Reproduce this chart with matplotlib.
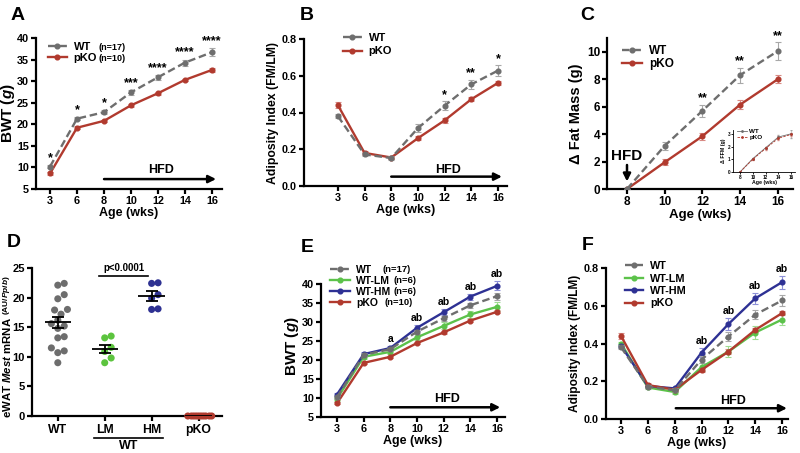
import matplotlib
matplotlib.use('Agg')
import matplotlib.pyplot as plt
import numpy as np

plt.rcParams.update({
    'font.family': 'Liberation Sans',
    'font.weight': 'bold',
    'axes.labelweight': 'bold',
    'mathtext.fontset': 'custom',
    'mathtext.rm': 'Liberation Sans:bold',
    'mathtext.it': 'Liberation Sans:italic:bold',
    'mathtext.bf': 'Liberation Sans:bold',
})

# ---- data ----
ages = [3, 6, 8, 10, 12, 14, 16]

bwt_wt = [10.2, 21.3, 22.8, 27.4, 30.9, 34.3, 36.7]
bwt_wt_err = [0.4, 0.4, 0.4, 0.5, 0.6, 0.7, 0.9]
bwt_ko = [8.6, 19.2, 20.8, 24.4, 27.2, 30.3, 32.6]
bwt_ko_err = [0.3, 0.3, 0.3, 0.3, 0.3, 0.3, 0.4]
bwt_lm = [9.8, 20.8, 22.1, 25.9, 28.9, 31.9, 33.9]
bwt_lm_err = [0.5, 0.5, 0.6, 0.8, 0.9, 1.0, 1.2]
bwt_hm = [10.9, 21.5, 23.1, 28.4, 32.5, 36.6, 39.4]
bwt_hm_err = [0.5, 0.5, 0.6, 0.8, 0.8, 0.8, 1.2]

ai_wt = [0.38, 0.172, 0.152, 0.315, 0.437, 0.553, 0.628]
ai_wt_err = [0.01, 0.01, 0.01, 0.02, 0.025, 0.025, 0.03]
ai_ko = [0.44, 0.18, 0.155, 0.26, 0.357, 0.472, 0.561]
ai_ko_err = [0.015, 0.01, 0.01, 0.01, 0.012, 0.012, 0.012]
ai_lm = [0.40, 0.167, 0.143, 0.275, 0.357, 0.458, 0.527]
ai_lm_err = [0.01, 0.01, 0.01, 0.02, 0.03, 0.035, 0.03]
ai_hm = [0.388, 0.175, 0.162, 0.352, 0.503, 0.639, 0.725]
ai_hm_err = [0.01, 0.01, 0.01, 0.025, 0.03, 0.03, 0.035]

hfd_ages = [8, 10, 12, 14, 16]
dfm_wt = [0.0, 3.15, 5.7, 8.3, 10.05]
dfm_wt_err = [0.0, 0.3, 0.45, 0.55, 0.65]
dfm_ko = [0.0, 1.95, 3.85, 6.15, 8.0]
dfm_ko_err = [0.0, 0.2, 0.25, 0.3, 0.3]
dffm_wt = [0.0, 1.05, 1.9, 2.75, 3.0]
dffm_wt_err = [0.0, 0.05, 0.1, 0.15, 0.3]
dffm_ko = [0.0, 1.0, 1.85, 2.65, 2.95]
dffm_ko_err = [0.0, 0.05, 0.1, 0.15, 0.15]

mest_groups = ['WT', 'LM', 'HM', 'pKO']
mest_wt = [22.4, 22.1, 20.5, 19.8, 18.0, 17.9, 17.2, 16.2, 15.6, 15.2,
           14.8, 13.4, 13.2, 11.5, 11.0, 10.7, 9.0]
mest_lm = [13.2, 13.5, 11.6, 10.9, 9.8, 9.0]
mest_hm = [22.5, 22.4, 20.5, 19.9, 18.1, 18.0]
mest_ko = [0.0] * 10

stars_a = ['*', '*', '*', '***', '****', '****', '****']
stars_b = ['', '', '', '', '*', '**', '*']
stars_c = ['', '', '**', '**', '**']
marks_e = ['', '', 'a', 'ab', 'ab', 'ab', 'ab']
marks_f = ['', '', '', 'ab', 'ab', 'ab', 'ab']

GRAY, RED, GREEN, BLUE = '#6e6e6e', '#b13a2e', '#5cc24a', '#2e3194'
EGRAY, ERED, EGREEN, EBLUE = '#a8a8a8', '#d88a84', '#9fdc92', '#8d90d6'

W, H = 800, 453
fig = plt.figure(figsize=(8, 4.53), dpi=100)


def box(l, t, r, b):
    return fig.add_axes([l / W, 1 - b / H, (r - l) / W, (b - t) / H])


def style(ax, size=7.8, lw=1.6):
    ax.spines['top'].set_visible(False)
    ax.spines['right'].set_visible(False)
    ax.spines['left'].set_linewidth(lw)
    ax.spines['bottom'].set_linewidth(lw)
    ax.tick_params(width=lw, length=3.5, labelsize=size, pad=1.5)


def series(ax, x, y, err, color, ecolor, dashed=False, lw=1.7, ms=3.4, z=2):
    ax.errorbar(x, y, yerr=err, fmt='none', ecolor=ecolor, elinewidth=0.8,
                capsize=2, capthick=0.8, zorder=z)
    line, = ax.plot(x, y, color=color, lw=lw, marker='o', ms=ms, zorder=z + 0.5)
    if dashed:
        line.set_dashes((3.2, 1.6))
    return line


def marks(ax, x, top, labels, pts, size=9):
    for xi, yi, s in zip(x, top, labels):
        if s:
            ax.annotate(s, (xi, yi), xytext=(0, pts), textcoords='offset points',
                        ha='center', va='center', fontsize=size)


def hfd(ax, x0, x1, y, ty, size=9):
    ax.annotate('', xy=(x1, y), xytext=(x0, y),
                arrowprops=dict(arrowstyle='-|>', lw=1.8, color='black',
                                mutation_scale=11, shrinkA=0, shrinkB=0))
    ax.text((x0 + x1) / 2 + 0.05, ty, 'HFD', ha='center', va='center', fontsize=size)


def legend(ax, handles, labels, left, row1, size, spacing, hlen=1.7):
    fs = size * 100 / 72
    return ax.legend(handles, labels, loc='upper left', frameon=False, fontsize=size,
                     bbox_to_anchor=(left / W, 1 - (row1 - 0.62 * fs) / H),
                     bbox_transform=fig.transFigure, borderpad=0, borderaxespad=0,
                     handlelength=hlen, handletextpad=0.6, labelspacing=spacing)


def counts(leg, labels, dx, size):
    fig.canvas.draw()
    for t, n, d in zip(leg.get_texts(), labels, dx):
        bb = t.get_window_extent()
        fig.text((bb.x0 + d) / W, (bb.y0 + bb.y1) / 2 / H, n, fontsize=size, va='center')


def swarm(vals, xscale, yscale, diam, half):
    # simple beeswarm: shift points sideways until they stop overlapping
    vals = np.asarray(vals, float)
    offs = np.zeros(len(vals))
    placed = []
    step = diam * 0.5
    cands = [0.0] + [s * k * step for k in range(1, 40) for s in (1, -1)]
    for i in np.argsort(vals):
        y = vals[i] * yscale
        for dx in cands:
            if all((dx - px) ** 2 + (y - py) ** 2 >= diam ** 2 for px, py in placed):
                break
        placed.append((dx, y))
        offs[i] = dx / xscale
    m = np.abs(offs).max()
    if m > half:
        offs *= half / m
    return offs


idx = np.arange(len(ages))

# ---- A ----
axA = box(36, 38, 222, 189)
a1 = series(axA, idx, bwt_wt, bwt_wt_err, GRAY, EGRAY, dashed=True, z=3)
a2 = series(axA, idx, bwt_ko, bwt_ko_err, RED, ERED, z=2)
axA.set_xlim(-0.52, 6.37)
axA.set_ylim(5, 40)
axA.set_xticks(idx, ages)
axA.set_yticks(range(5, 41, 5))
axA.set_xlabel('Age (wks)', fontsize=9, labelpad=1)
axA.set_ylabel(r'BWT $\mathit{(g)}$', fontsize=11, labelpad=0)
style(axA)
marks(axA, idx, np.add(bwt_wt, bwt_wt_err), stars_a, 5)
hfd(axA, 2, 6.15, 7.3, 9.3)
legA = legend(axA, [a1, a2], ['WT', 'pKO'], 48, 49, 8, 0.1)

# ---- B ----
axB = box(304, 39, 507, 186)
b1 = series(axB, idx, ai_wt, ai_wt_err, GRAY, EGRAY, dashed=True, z=3)
b2 = series(axB, idx, ai_ko, ai_ko_err, RED, ERED, z=2)
axB.set_xlim(-1.27, 6.34)
axB.set_ylim(0, 0.8)
axB.set_xticks(idx, ages)
axB.set_yticks(np.arange(0, 0.81, 0.2))
axB.yaxis.set_major_formatter(plt.FormatStrFormatter('%.1f'))
axB.set_xlabel('Age (wks)', fontsize=9, labelpad=1)
axB.set_ylabel('Adiposity Index (FM/LM)', fontsize=8.8, labelpad=2)
style(axB)
marks(axB, idx, np.add(ai_wt, ai_wt_err), stars_b, 4.5)
hfd(axB, 2, 6.15, 0.051, 0.088)
legend(axB, [b1, b2], ['WT', 'pKO'], 343, 40, 8, 0.3)

# ---- C ----
axC = box(607, 38, 793, 189)
c1 = series(axC, hfd_ages, dfm_wt, dfm_wt_err, GRAY, EGRAY, dashed=True, z=3)
c2 = series(axC, hfd_ages, dfm_ko, dfm_ko_err, RED, ERED, z=2)
axC.set_xlim(6.94, 16.8)
axC.set_ylim(0, 11)
axC.set_xticks(hfd_ages)
axC.set_yticks(range(0, 11, 2))
axC.set_xlabel('Age (wks)', fontsize=9.5, labelpad=1)
axC.set_ylabel('\u0394 Fat Mass (g)', fontsize=10.5, labelpad=3)
style(axC, size=8.5)
marks(axC, hfd_ages, np.add(dfm_wt, dfm_wt_err), stars_c, 4.5)
axC.annotate('', xy=(8, 0.55), xytext=(8, 1.75),
             arrowprops=dict(arrowstyle='-|>', lw=1.8, color='black',
                             mutation_scale=11, shrinkA=0, shrinkB=0))
axC.text(8, 2.4, 'HFD', ha='center', va='center', fontsize=11)
legend(axC, [c1, c2], ['WT', 'pKO'], 622, 52, 8.5, 0.15)

# inset
axI = box(733, 130, 795, 172)
axI.errorbar(hfd_ages, dffm_wt, yerr=dffm_wt_err, fmt='none', ecolor=EGRAY, elinewidth=0.4, capsize=1)
axI.errorbar(hfd_ages, dffm_ko, yerr=dffm_ko_err, fmt='none', ecolor=ERED, elinewidth=0.4, capsize=1)
i1, = axI.plot(hfd_ages, dffm_wt, color=GRAY, lw=0.6, marker='o', ms=1)
i2, = axI.plot(hfd_ages, dffm_ko, color=RED, lw=0.6, marker='o', ms=1, ls=(0, (3, 1.5)))
axI.set_xlim(6.9, 16.6)
axI.set_ylim(0, 3.3)
axI.set_xticks(hfd_ages)
axI.set_yticks(range(0, 4))
axI.set_xlabel('Age (wks)', fontsize=3.8, labelpad=0.5)
axI.set_ylabel('\u0394 FFM (g)', fontsize=3.8, labelpad=1)
style(axI, size=3.3, lw=0.6)
axI.tick_params(length=1.2, pad=0.8)
axI.legend([i1, i2], ['WT', 'pKO'], loc='upper left', frameon=False, fontsize=4.5,
           borderpad=0, borderaxespad=0.1, handlelength=1.6, handletextpad=0.4,
           labelspacing=0.05, bbox_to_anchor=(0.05, 1.04))

# ---- D ----
axD = box(32, 268, 222, 416)
groups = [mest_wt, mest_lm, mest_hm, mest_ko]
colors = ['#6d6d6d', '#5cc43e', '#2e3192', '#b03a2e']
for i, (vals, c) in enumerate(zip(groups, colors)):
    offs = swarm(vals, 46.7, 5.92, 6.4, 0.28)
    axD.scatter(i + offs, vals, s=26, color=c, edgecolor='none', zorder=3, clip_on=False)
    m = np.mean(vals)
    sem = np.std(vals, ddof=1) / np.sqrt(len(vals))
    axD.hlines(m, i - 0.28, i + 0.28, color='black', lw=1.3, zorder=4)
    if sem > 0:
        axD.vlines(i, m - sem, m + sem, color='black', lw=1.3, zorder=4)
        axD.hlines([m - sem, m + sem], i - 0.13, i + 0.13, color='black', lw=1.3, zorder=4)
axD.set_xlim(-0.55, 3.5)
axD.set_ylim(0, 25)
axD.set_xticks(range(4), mest_groups)
axD.set_yticks(range(0, 26, 5))
style(axD, size=8)
axD.tick_params(axis='x', labelsize=8.8, pad=2)
axD.plot([0.88, 1.93], [23.6, 23.6], color='black', lw=1.2)
axD.text(1.4, 24.2, 'p<0.0001', ha='center', va='bottom', fontsize=7)
axD.plot([0.77, 2.25], [-0.148, -0.148], color='black', lw=1.2,
         transform=axD.get_xaxis_transform(), clip_on=False)
axD.text(1.5, -0.16, 'WT', ha='center', va='top', fontsize=9,
         transform=axD.get_xaxis_transform())
# y label of D: main part, then the smaller unit part stacked above it
ylab = fig.text(7 / W, 1 - 418 / H, r'eWAT $\mathit{Mest}$ mRNA', rotation=90,
                ha='center', va='bottom', fontsize=8.2)
fig.canvas.draw()
top = ylab.get_window_extent().y1
fig.text(6 / W, (top + 2) / H, r'(AU/$\mathit{Ppib}$)', rotation=90,
         ha='center', va='bottom', fontsize=6)

# ---- E ----
axE = box(321, 276, 505, 417)
e_lm = series(axE, idx, bwt_lm, bwt_lm_err, GREEN, EGREEN, z=2)
e_hm = series(axE, idx, bwt_hm, bwt_hm_err, BLUE, EBLUE, z=2.2)
e_ko = series(axE, idx, bwt_ko, bwt_ko_err, RED, ERED, z=2.4)
e_wt = series(axE, idx, bwt_wt, bwt_wt_err, GRAY, EGRAY, dashed=True, z=3)
axE.set_xlim(-0.6, 6.3)
axE.set_ylim(5, 42)
axE.set_xticks(idx, ages)
axE.set_yticks(range(5, 41, 5))
axE.spines['left'].set_bounds(5, 40)
axE.set_xlabel('Age (wks)', fontsize=9, labelpad=1)
axE.set_ylabel(r'BWT $\mathit{(g)}$', fontsize=11, labelpad=1)
style(axE)
marks(axE, idx, np.add(bwt_hm, bwt_hm_err), marks_e, 5, size=7.5)
hfd(axE, 2, 6.12, 7.55, 9.7)
legE = legend(axE, [e_wt, e_lm, e_hm, e_ko], ['WT', 'WT-LM', 'WT-HM', 'pKO'],
              330, 271, 7.5, 0.1, hlen=1.9)

# ---- F ----
axF = box(606, 268, 788, 419)
f_lm = series(axF, idx, ai_lm, ai_lm_err, GREEN, EGREEN, z=2)
f_hm = series(axF, idx, ai_hm, ai_hm_err, BLUE, EBLUE, z=2.2)
f_ko = series(axF, idx, ai_ko, ai_ko_err, RED, ERED, z=2.4)
f_wt = series(axF, idx, ai_wt, ai_wt_err, GRAY, EGRAY, dashed=True, z=3)
axF.set_xlim(-0.56, 6.22)
axF.set_ylim(0, 0.8)
axF.set_xticks(idx, ages)
axF.set_yticks(np.arange(0, 0.81, 0.2))
axF.yaxis.set_major_formatter(plt.FormatStrFormatter('%.1f'))
axF.set_xlabel('Age (wks)', fontsize=9, labelpad=1)
axF.set_ylabel('Adiposity Index (FM/LM)', fontsize=8.6, labelpad=2)
style(axF)
marks(axF, idx, np.add(ai_hm, ai_hm_err), marks_f, 5, size=7.5)
hfd(axF, 2.04, 6.18, 0.057, 0.093)
legend(axF, [f_wt, f_lm, f_hm, f_ko], ['WT', 'WT-LM', 'WT-HM', 'pKO'],
       625, 268, 7.8, 0.22)

# panel letters
for s, x, y in [('A', 18, 15), ('B', 307, 15), ('C', 587, 16),
                ('D', 14, 243), ('E', 307, 248), ('F', 588, 246)]:
    fig.text(x / W, 1 - y / H, s, fontsize=14, ha='center', va='center')

counts(legA, ['(n=17)', '(n=10)'], [25, 25], 6.5)
counts(legE, ['(n=17)', '(n=6)', '(n=6)', '(n=10)'], [26, 37, 37, 28], 6.8)

fig.savefig('out.png', dpi=100)
